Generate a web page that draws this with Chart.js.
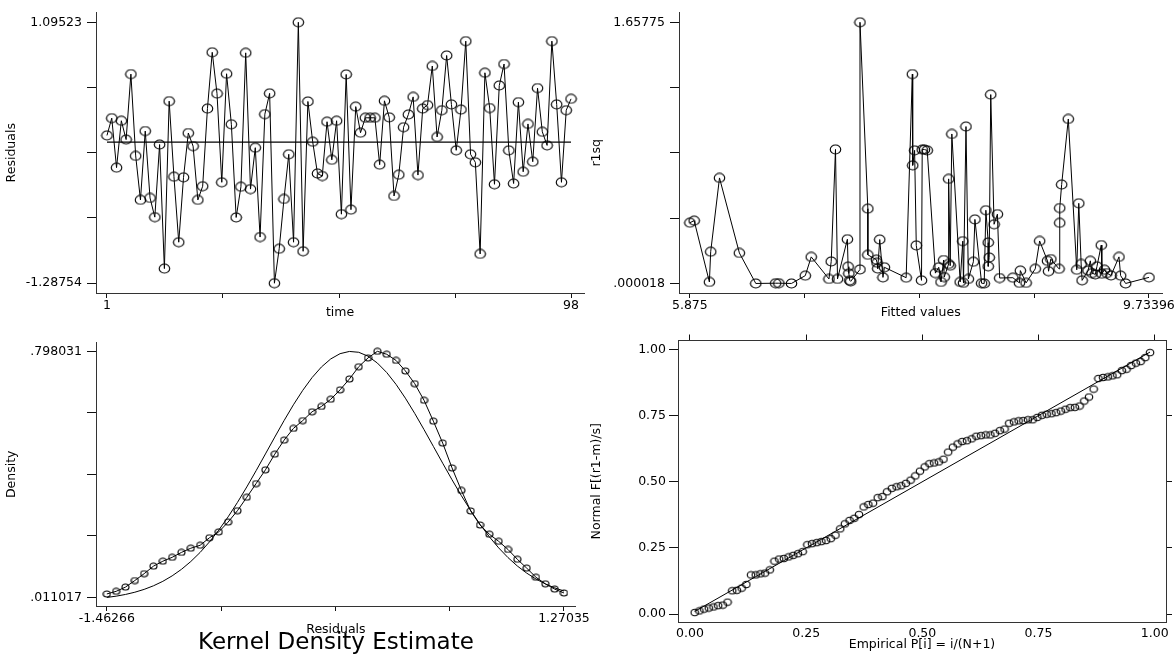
<!DOCTYPE html>
<html><head><meta charset="utf-8">
<script src="https://cdn.jsdelivr.net/npm/chart.js@4.4.1/dist/chart.umd.min.js"></script>
<style>
html,body{margin:0;padding:0;background:#fff;width:1175px;height:661px;overflow:hidden;}
canvas{position:absolute;}
</style></head><body>
<canvas id="c1" width="590" height="330" style="left:0px;top:0px"></canvas>
<canvas id="c2" width="590" height="330" style="left:585px;top:0px"></canvas>
<canvas id="c3" width="590" height="331" style="left:0px;top:330px"></canvas>
<canvas id="c4" width="590" height="331" style="left:585px;top:330px"></canvas>
<script>
// ---------- Panel 1: residuals over time ----------
const residuals = [0.062,0.220,-0.232,0.196,0.024,0.622,-0.125,-0.527,0.102,-0.509,
-0.684,-0.021,-1.154,0.375,-0.315,-0.913,-0.321,0.084,-0.036,-0.527,
-0.402,0.307,0.821,0.444,-0.366,0.625,0.164,-0.687,-0.407,0.816,
-0.428,-0.050,-0.866,0.256,0.446,-1.28754,-0.973,-0.518,-0.110,-0.913,
1.09523,-0.996,0.372,0.004,-0.286,-0.309,0.187,-0.161,0.196,-0.657,
0.619,-0.616,0.325,0.087,0.223,0.223,0.223,-0.205,0.378,0.227,
-0.491,-0.297,0.137,0.253,0.414,-0.300,0.307,0.339,0.696,0.048,
0.292,0.792,0.345,-0.074,0.298,0.923,-0.110,-0.184,-1.020,0.634,
0.312,-0.384,0.518,0.714,-0.074,-0.377,0.366,-0.270,0.167,-0.178,
0.494,0.095,-0.029,0.923,0.345,-0.366,0.292,0.396];
const timeIndex = Array.from({length: residuals.length}, (_, i) => i + 1);
const residTickValues = [-1.28754, -0.69185, -0.09615, 0.49954, 1.09523];
const residTickLabels = ['-1.28754', '', '', '', '1.09523'];
const timeTickValues = [1, 25.25, 49.5, 73.75, 98];
const timeTickLabels = ['1', '', '', '', '98'];
const zeroLineX = [1, 98];
const zeroLineY = [0, 0];

// ---------- Panel 2: squared residuals vs fitted values ----------
const fitted = [5.875,5.911,6.039,6.050,6.124,6.291,6.429,6.596,6.623,6.729,
6.845,6.895,7.044,7.063,7.099,7.116,7.199,7.205,7.211,7.219,
7.227,7.305,7.305,7.371,7.371,7.443,7.448,7.454,7.471,7.498,
7.510,7.693,7.745,7.748,7.764,7.778,7.822,7.828,7.847,7.870,
7.939,7.967,7.986,8.008,8.013,8.050,8.050,8.063,8.077,8.147,
8.169,8.175,8.196,8.216,8.258,8.271,8.327,8.349,8.363,8.383,
8.383,8.391,8.404,8.432,8.460,8.479,8.590,8.645,8.653,8.701,
8.778,8.815,8.881,8.890,8.909,8.978,8.984,8.984,9.000,9.056,
9.127,9.144,9.164,9.172,9.222,9.241,9.255,9.283,9.297,9.333,
9.338,9.360,9.380,9.415,9.482,9.496,9.538,9.73396];
const r1sq = [0.386,0.399,0.010,0.202,0.670,0.194,0.0004,0.002,0.002,0.0005,
0.050,0.169,0.029,0.140,0.851,0.029,0.281,0.107,0.064,0.020,
0.014,0.089,1.65775,0.475,0.182,0.151,0.132,0.095,0.279,0.039,
0.103,0.037,1.329,0.750,0.845,0.242,0.020,0.850,0.850,0.845,
0.066,0.103,0.010,0.149,0.041,0.124,0.664,0.113,0.949,0.010,
0.269,0.004,0.996,0.029,0.138,0.407,0.002,0.000018,0.465,0.260,
0.109,0.165,1.199,0.376,0.440,0.035,0.037,0.004,0.082,0.004,
0.093,0.270,0.144,0.078,0.155,0.093,0.385,0.479,0.628,1.044,
0.087,0.509,0.124,0.020,0.082,0.144,0.066,0.058,0.109,0.244,
0.062,0.087,0.066,0.051,0.169,0.050,0.0004,0.039];
const r1sqTickValues = [0.000018, 0.414451, 0.828884, 1.243317, 1.65775];
const r1sqTickLabels = ['.000018', '', '', '', '1.65775'];
const fittedTickValues = [5.875, 6.83974, 7.80448, 8.76922, 9.73396];
const fittedTickLabels = ['5.875', '', '', '', '9.73396'];

// ---------- Panel 3: kernel density ----------
const kdX = [-1.4627,-1.4069,-1.3511,-1.2953,-1.2396,-1.1838,-1.1280,-1.0722,-1.0165,-0.9607,
-0.9049,-0.8491,-0.7934,-0.7376,-0.6818,-0.6260,-0.5703,-0.5145,-0.4587,-0.4029,
-0.3472,-0.2914,-0.2356,-0.1798,-0.1241,-0.0683,-0.0125,0.0433,0.0990,0.1548,
0.2106,0.2664,0.3221,0.3779,0.4337,0.4895,0.5452,0.6010,0.6568,0.7126,
0.7683,0.8241,0.8799,0.9357,0.9914,1.0472,1.1030,1.1588,1.2145,1.2703];
const kdDensity = [0.0223,0.0307,0.0442,0.0652,0.0871,0.1112,0.1269,0.1394,0.1551,0.1685,
0.1779,0.2020,0.2208,0.2521,0.2885,0.3314,0.3752,0.4191,0.4692,0.5140,
0.5515,0.5766,0.6048,0.6217,0.6446,0.6749,0.7094,0.7488,0.7770,0.7980,
0.7886,0.7689,0.7354,0.6947,0.6414,0.5747,0.5046,0.4253,0.3533,0.2875,
0.2428,0.2133,0.1905,0.1645,0.1331,0.1050,0.0755,0.0548,0.0379,0.0254];
const normalDensity = [0.0111,0.0152,0.0207,0.0278,0.0369,0.0484,0.0626,0.0801,0.1010,0.1260,
0.1551,0.1887,0.2265,0.2688,0.3149,0.3644,0.4163,0.4699,0.5238,0.5767,
0.6270,0.6733,0.7141,0.7479,0.7737,0.7905,0.7976,0.7949,0.7824,0.7605,
0.7302,0.6923,0.6483,0.5996,0.5477,0.4941,0.4403,0.3874,0.3367,0.2890,
0.2450,0.2051,0.1696,0.1385,0.1117,0.0890,0.0700,0.0544,0.0418,0.0316];
const densTickValues = [0.011017, 0.2077705, 0.404524, 0.6012775, 0.798031];
const densTickLabels = ['.011017', '', '', '', '.798031'];
const kdXTickValues = [-1.46266, -0.7794075, -0.096155, 0.5870975, 1.27035];
const kdXTickLabels = ['-1.46266', '', '', '', '1.27035'];

// ---------- Panel 4: normal probability plot ----------
const ppX = [.0101,.0202,.0303,.0404,.0505,.0606,.0707,.0808,.0909,.1010,
.1111,.1212,.1313,.1414,.1515,.1616,.1717,.1818,.1919,.2020,
.2121,.2222,.2323,.2424,.2525,.2626,.2727,.2828,.2929,.3030,
.3131,.3232,.3333,.3434,.3535,.3636,.3737,.3838,.3939,.4040,
.4141,.4242,.4343,.4444,.4545,.4646,.4747,.4848,.4949,.5051,
.5152,.5253,.5354,.5455,.5556,.5657,.5758,.5859,.5960,.6061,
.6162,.6263,.6364,.6465,.6566,.6667,.6768,.6869,.6970,.7071,
.7172,.7273,.7374,.7475,.7576,.7677,.7778,.7879,.7980,.8081,
.8182,.8283,.8384,.8485,.8586,.8687,.8788,.8889,.8990,.9091,
.9192,.9293,.9394,.9495,.9596,.9697,.9798,.9899];
const ppY = [.006,.012,.019,.023,.027,.032,.034,.045,.088,.090,
.098,.112,.148,.148,.152,.155,.167,.200,.208,.210,
.216,.222,.228,.236,.262,.266,.270,.274,.278,.285,
.298,.322,.341,.354,.362,.376,.405,.414,.419,.440,
.444,.462,.475,.481,.485,.494,.506,.522,.540,.556,
.568,.571,.575,.585,.612,.631,.643,.652,.655,.662,
.672,.674,.677,.677,.683,.693,.699,.721,.726,.730,
.731,.734,.734,.743,.751,.755,.757,.761,.767,.774,
.780,.781,.786,.805,.820,.850,.890,.894,.896,.900,
.904,.920,.925,.939,.948,.954,.969,.988];
const ppRefLine = [0.0101, 0.9899];
const ppTickValues = [0, 0.25, 0.5, 0.75, 1];
const ppTickLabels = ['0.00', '0.25', '0.50', '0.75', '1.00'];
const blankLabels = ['', '', '', '', ''];

// ---------- helpers ----------
Chart.defaults.font.family = "'DejaVu Sans', 'Liberation Sans', sans-serif";
Chart.defaults.font.size = 12.5;
Chart.defaults.color = '#000';

function ring(w, h) {
  const c = document.createElement('canvas');
  const W = Math.ceil(w) + 2, H = Math.ceil(h) + 2;
  c.width = W; c.height = H;
  const g = c.getContext('2d');
  g.strokeStyle = '#000'; g.lineWidth = 1.15;
  g.beginPath(); g.ellipse(W / 2, H / 2, w / 2, h / 2, 0, 0, Math.PI * 2); g.stroke();
  return c;
}
function pts(xs, ys) { return xs.map((x, i) => ({x: x, y: ys[i]})); }

function scale(axis, position, min, max, tickVals, tickLabels, o) {
  return {
    type: 'linear', axis: axis, position: position, min: min, max: max,
    afterBuildTicks: s => { s.ticks = tickVals.map(v => ({value: v})); },
    afterFit: s => { if (axis === 'x') s.height = o.size; else s.width = o.size; },
    border: {display: true, color: '#333', width: 1},
    grid: {display: true, drawOnChartArea: false, drawTicks: (o.tick || 0) > 0,
           tickLength: o.tick || 0, tickColor: '#111', lineWidth: 1},
    ticks: {autoSkip: false, maxRotation: 0, minRotation: 0, padding: o.pad || 0,
            color: '#000', callback: (v, i) => tickLabels[i]},
    title: o.title ? {display: true, text: o.title, color: '#000',
                      font: {size: 12.5}, padding: o.titlePad} : {display: false}
  };
}
const base = {
  responsive: false, animation: false, events: [], devicePixelRatio: 1,
  plugins: {legend: {display: false}, tooltip: {enabled: false}, title: {display: false}}
};

// Panel 1
new Chart(document.getElementById('c1'), {
  type: 'scatter',
  data: {datasets: [
    {data: pts(timeIndex, residuals), showLine: true, borderColor: '#000', borderWidth: 1,
     pointStyle: ring(10.5, 9), pointRadius: 5, clip: false},
    {data: pts(zeroLineX, zeroLineY), showLine: true, borderColor: '#000', borderWidth: 1.2,
     pointRadius: 0, clip: false}
  ]},
  options: Object.assign({}, base, {
    layout: {padding: {left: 0, top: 6, right: 5, bottom: 0}},
    scales: {
      x: scale('x', 'bottom', -1.2946, 100.712, timeTickValues, timeTickLabels,
               {size: 37, tick: 5, pad: 0, title: 'time', titlePad: {top: 0, bottom: 9.5}}),
      y: scale('y', 'left', -1.37678, 1.18447, residTickValues, residTickLabels,
               {size: 96, tick: 9, pad: 5, title: 'Residuals', titlePad: {top: 4.5, bottom: 0}})
    }
  })
});

// Panel 2
new Chart(document.getElementById('c2'), {
  type: 'scatter',
  data: {datasets: [
    {data: pts(fitted, r1sq), showLine: true, borderColor: '#000', borderWidth: 1,
     pointStyle: ring(10.5, 9), pointRadius: 5, clip: false}
  ]},
  options: Object.assign({}, base, {
    layout: {padding: {left: 0, top: 6, right: 7, bottom: 0}},
    scales: {
      x: scale('x', 'bottom', 5.78358, 9.84783, fittedTickValues, fittedTickLabels,
               {size: 37, tick: 5, pad: 0, title: 'Fitted values', titlePad: {top: 0, bottom: 9.5}}),
      y: scale('y', 'left', -0.06014, 1.71977, r1sqTickValues, r1sqTickLabels,
               {size: 94, tick: 9, pad: 5, title: 'r1sq', titlePad: {top: 4.5, bottom: 0}})
    }
  })
});

// Panel 3
new Chart(document.getElementById('c3'), {
  type: 'scatter',
  data: {datasets: [
    {data: pts(kdX, kdDensity), showLine: true, borderColor: '#000', borderWidth: 1,
     pointStyle: ring(7, 6), pointRadius: 4, clip: false},
    {data: pts(kdX, normalDensity), showLine: true, borderColor: '#000', borderWidth: 1,
     pointRadius: 0, clip: false}
  ]},
  options: Object.assign({}, base, {
    layout: {padding: {left: 0, top: 7, right: 7, bottom: 6.5}},
    plugins: {legend: {display: false}, tooltip: {enabled: false},
      title: {display: true, position: 'bottom', fullSize: false, text: 'Kernel Density Estimate',
              color: '#000', font: {size: 23, lineHeight: 1.0, weight: 'normal'}, padding: 0}},
    scales: {
      x: scale('x', 'bottom', -1.52745, 1.34103, kdXTickValues, kdXTickLabels,
               {size: 25.5, tick: 5, pad: 0, title: 'Residuals', titlePad: {top: 0, bottom: -6}}),
      y: scale('y', 'left', -0.01623, 0.826217, densTickValues, densTickLabels,
               {size: 96, tick: 9, pad: 5, title: 'Density', titlePad: {top: 4.5, bottom: 0}})
    }
  })
});

// Panel 4
new Chart(document.getElementById('c4'), {
  type: 'scatter',
  data: {datasets: [
    {data: pts(ppX, ppY), showLine: false, borderColor: '#000',
     pointStyle: ring(7.5, 6.5), pointRadius: 4, clip: false},
    {data: pts(ppRefLine, ppRefLine), showLine: true, borderColor: '#000', borderWidth: 1,
     pointRadius: 0, clip: false}
  ]},
  options: Object.assign({}, base, {
    layout: {padding: 0},
    scales: {
      x: scale('x', 'bottom', -0.02582, 1.02432, ppTickValues, ppTickLabels,
               {size: 39, tick: 0, pad: 4, title: 'Empirical P[i] = i/(N+1)', titlePad: {top: 0, bottom: 8.5}}),
      x2: scale('x', 'top', -0.02582, 1.02432, ppTickValues, blankLabels, {size: 7, tick: 6, pad: 0}),
      y: scale('y', 'left', -0.02985, 1.03358, ppTickValues, ppTickLabels,
               {size: 93, tick: 9, pad: 3, title: 'Normal F[(r1-m)/s]', titlePad: {top: 4.5, bottom: 0}}),
      y2: scale('y', 'right', -0.02985, 1.03358, ppTickValues, blankLabels, {size: 9, tick: 6, pad: 0})
    }
  })
});
</script>
</body></html>
